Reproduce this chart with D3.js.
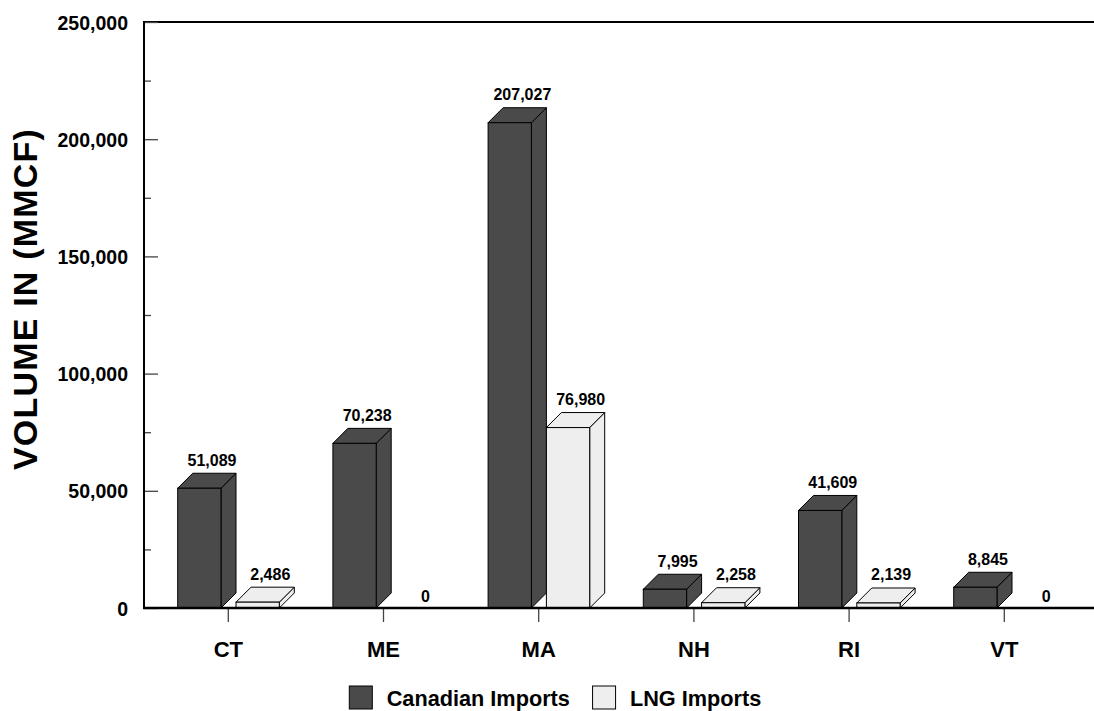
<!DOCTYPE html>
<html>
<head>
<meta charset="utf-8">
<script src="https://cdn.jsdelivr.net/npm/d3@7"></script>
<style>
  html, body { margin: 0; padding: 0; background: #ffffff; }
  svg { display: block; }
  text { font-family: "Liberation Sans", Arial, Helvetica, sans-serif; font-weight: bold; fill: #000; }
</style>
</head>
<body>
<svg id="chart" width="1094" height="711"></svg>
<script>
// Natural gas imports by New England state (MMCF)
const states = ["CT", "ME", "MA", "NH", "RI", "VT"];
const canadianImports = [51089, 70238, 207027, 7995, 41609, 8845];
const lngImports = [2486, 0, 76980, 2258, 2139, 0];
const majorTicks = [0, 50000, 100000, 150000, 200000, 250000];
const minorTicks = [25000, 75000, 125000, 175000, 225000];
const seriesNames = ["Canadian Imports", "LNG Imports"];
const seriesColors = ["#4a4a4a", "#eeeeee"];

const svg = d3.select("#chart");
const plotLeft = 144, plotRight = 1094, plotTop = 22, plotBottom = 608;
const depth = 15;

const y = d3.scaleLinear().domain([0, 250000]).range([plotBottom, plotTop]);
const x = d3.scaleBand().domain(states).range([150.7, 1081.9]).paddingInner(0).paddingOuter(0);
// each series occupies a front face plus its 3-D depth
const sub = d3.scaleBand().domain(seriesNames).range([-50.6, 66.0]);
const frontW = sub.bandwidth() - depth;

const fmt = d3.format(",");

// Top border
svg.append("line")
  .attr("x1", plotLeft).attr("x2", plotRight)
  .attr("y1", plotTop).attr("y2", plotTop)
  .attr("stroke", "#000").attr("stroke-width", 2);

// Minor y ticks (no labels)
const minorAxis = svg.append("g")
  .attr("transform", `translate(${plotLeft},0)`)
  .call(d3.axisLeft(y).tickValues(minorTicks).tickSize(-7).tickFormat(""));
minorAxis.select(".domain").remove();
minorAxis.selectAll(".tick line").attr("stroke", "#444").attr("stroke-width", 1.3);

// Major y ticks with labels
const yAxis = svg.append("g")
  .attr("transform", `translate(${plotLeft},0)`)
  .call(d3.axisLeft(y).tickValues(majorTicks).tickSize(-14).tickPadding(16).tickFormat(fmt));
yAxis.select(".domain").remove();
yAxis.selectAll(".tick line").attr("stroke", "#444").attr("stroke-width", 1.3);
yAxis.selectAll(".tick text")
  .attr("font-size", 19.5)
  .attr("font-family", "Liberation Sans, Arial, sans-serif")
  .attr("font-weight", "bold")
  .attr("fill", "#000")
  .attr("dy", "0.36em");

// Left axis line
svg.append("line")
  .attr("x1", plotLeft).attr("x2", plotLeft)
  .attr("y1", plotTop - 1).attr("y2", plotBottom)
  .attr("stroke", "#000").attr("stroke-width", 2);

// Bars drawn as 3-D blocks: front face, top, and side
const barData = [];
states.forEach((s, i) => {
  [canadianImports[i], lngImports[i]].forEach((v, k) => {
    barData.push({ state: s, series: seriesNames[k], value: v, color: seriesColors[k] });
  });
});

const bars = svg.append("g").selectAll("g.bar")
  .data(barData)
  .join("g")
  .attr("class", "bar");

bars.each(function(d) {
  const g = d3.select(this);
  const c = x(d.state) + x.bandwidth() / 2;
  const x0 = c + sub(d.series);
  const x1 = x0 + frontW;
  const yv = y(d.value);
  const yb = y(0);
  if (d.value > 0) {
    // side face
    g.append("path")
      .attr("d", `M${x1},${yv} L${x1 + depth},${yv - depth} L${x1 + depth},${yb - depth} L${x1},${yb} Z`)
      .attr("fill", d.color).attr("stroke", "#000").attr("stroke-width", 1).attr("stroke-linejoin", "round");
    // top face
    g.append("path")
      .attr("d", `M${x0},${yv} L${x0 + depth},${yv - depth} L${x1 + depth},${yv - depth} L${x1},${yv} Z`)
      .attr("fill", d.color).attr("stroke", "#000").attr("stroke-width", 1).attr("stroke-linejoin", "round");
    // front face
    g.append("rect")
      .attr("x", x0).attr("y", yv)
      .attr("width", frontW).attr("height", yb - yv)
      .attr("fill", d.color).attr("stroke", "#000").attr("stroke-width", 1);
  }
  g.append("text")
    .attr("x", x0 + 34.3)
    .attr("y", d.value > 0 ? yv - 22.5 : yb - 6.5)
    .attr("text-anchor", "middle")
    .attr("font-size", 16)
    .text(fmt(d.value));
});

// Category axis
const xAxis = svg.append("g")
  .attr("transform", `translate(0,${plotBottom})`)
  .call(d3.axisBottom(x).tickSize(14).tickPadding(19));
xAxis.select(".domain").remove();
xAxis.selectAll(".tick line").attr("stroke", "#444").attr("stroke-width", 1.3);
xAxis.selectAll(".tick text")
  .attr("font-size", 22)
  .attr("font-family", "Liberation Sans, Arial, sans-serif")
  .attr("font-weight", "bold")
  .attr("fill", "#000");

// Baseline
svg.append("line")
  .attr("x1", plotLeft - 1).attr("x2", plotRight)
  .attr("y1", plotBottom).attr("y2", plotBottom)
  .attr("stroke", "#000").attr("stroke-width", 2.5);

// Y axis title
svg.append("text")
  .attr("transform", "translate(37,299) rotate(-90)")
  .attr("text-anchor", "middle")
  .attr("font-size", 34)
  .attr("letter-spacing", 1.2)
  .text("VOLUME IN (MMCF)");

// Legend
const legend = svg.append("g").attr("transform", "translate(349.3,686)");
let lx = 0;
seriesNames.forEach((name, i) => {
  const item = legend.append("g").attr("transform", `translate(${lx},0)`);
  item.append("rect")
    .attr("width", 23).attr("height", 23)
    .attr("fill", seriesColors[i]).attr("stroke", "#000").attr("stroke-width", 1);
  const t = item.append("text")
    .attr("x", 37.4).attr("y", 20)
    .attr("font-size", 21.7)
    .text(name);
  lx += 37.4 + t.node().getComputedTextLength() + 22.7;
});
</script>
</body>
</html>
